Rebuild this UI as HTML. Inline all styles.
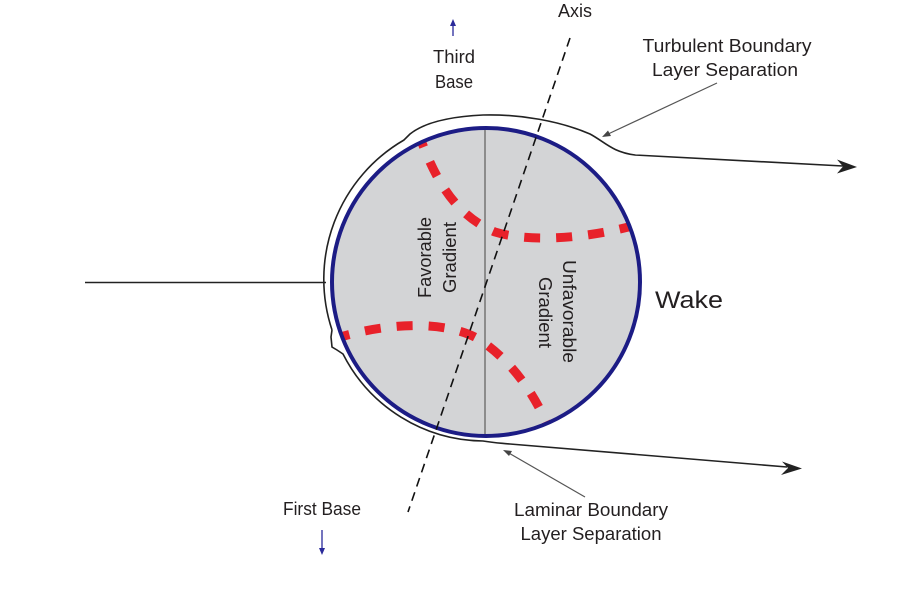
<!DOCTYPE html>
<html>
<head>
<meta charset="utf-8">
<style>
  html,body{margin:0;padding:0;background:#fff;}
  body{width:900px;height:596px;overflow:hidden;}
  svg{display:block;}
  text{font-family:"Liberation Sans",Arial,sans-serif;fill:#231f20;}
</style>
</head>
<body>
<svg width="900" height="596" viewBox="0 0 900 596" xmlns="http://www.w3.org/2000/svg">
  <defs>
    <clipPath id="ball"><circle cx="486" cy="282" r="154"/></clipPath>
  </defs>
  <rect width="900" height="596" fill="#fff"/>

  <!-- incoming flow line -->
  <line x1="85" y1="282.5" x2="326" y2="282.5" stroke="#222" stroke-width="1.6"/>

  <!-- ball -->
  <circle cx="486" cy="282" r="154" fill="#d3d4d6"/>
  <line x1="485" y1="128" x2="485" y2="436" stroke="#7a7a7a" stroke-width="1.6"/>

  <!-- seams -->
  <g clip-path="url(#ball)" fill="none" stroke="#e8212a" stroke-width="9" stroke-dasharray="16 16">
    <path d="M 418 132 C 435 180, 455 215, 495 232 C 530 243, 590 238, 636 225"/>
    <path d="M 334 339 C 390 321, 450 321, 480 340 C 510 360, 535 392, 552 436"/>
  </g>

  <!-- ball outline -->
  <circle cx="486" cy="282" r="154" fill="none" stroke="#1c1c85" stroke-width="4"/>

  <!-- axis -->
  <line x1="570" y1="38" x2="408" y2="512" stroke="#111" stroke-width="1.6" stroke-dasharray="9 6"/>

  <!-- boundary layer contour -->
  <path d="M 332 330 A 161 161 0 0 1 404 140 L 410 134 C 420 126, 440 117, 483 115 C 520 114, 560 121, 590 134 C 605 142, 612 152, 635 155 L 843 166"
        fill="none" stroke="#222" stroke-width="1.6"/>
  <path d="M 332 330 L 331 337 L 332 347 L 337 350 L 343 354 A 159 159 0 0 0 483 441 C 495 443, 500 443, 510 444 L 787 467"
        fill="none" stroke="#222" stroke-width="1.6"/>

  <!-- arrowheads for flow lines -->
  <polygon points="857,167 837,159.5 843,166.5 837,173.5" fill="#222"/>
  <polygon points="802,468.5 782,461.5 788,468 781,475" fill="#222"/>

  <!-- pointer lines -->
  <line x1="717" y1="83" x2="606" y2="135" stroke="#555" stroke-width="1.2"/>
  <polygon points="602,137 608,130.5 611,136" fill="#444"/>
  <line x1="585" y1="497" x2="507" y2="452" stroke="#555" stroke-width="1.2"/>
  <polygon points="503,450 512,451 509,456" fill="#444"/>

  <!-- base direction arrows -->
  <line x1="453" y1="36" x2="453" y2="24" stroke="#2a2a9a" stroke-width="1.3"/>
  <polygon points="453,19 450,26 456,26" fill="#2a2a9a"/>
  <line x1="322" y1="530" x2="322" y2="549" stroke="#2a2a9a" stroke-width="1.3"/>
  <polygon points="322,555 319,548 325,548" fill="#2a2a9a"/>

  <!-- labels -->
  <text x="575" y="17" font-size="18" text-anchor="middle" textLength="34" lengthAdjust="spacingAndGlyphs">Axis</text>
  <text x="454" y="63" font-size="18" text-anchor="middle" textLength="42" lengthAdjust="spacingAndGlyphs">Third</text>
  <text x="454" y="88" font-size="18" text-anchor="middle" textLength="38" lengthAdjust="spacingAndGlyphs">Base</text>
  <text x="727" y="52" font-size="18" text-anchor="middle" textLength="169" lengthAdjust="spacingAndGlyphs">Turbulent Boundary</text>
  <text x="725" y="76" font-size="18" text-anchor="middle" textLength="146" lengthAdjust="spacingAndGlyphs">Layer Separation</text>
  <text x="322" y="515" font-size="18" text-anchor="middle" textLength="78" lengthAdjust="spacingAndGlyphs">First Base</text>
  <text x="591" y="516" font-size="18" text-anchor="middle" textLength="154" lengthAdjust="spacingAndGlyphs">Laminar Boundary</text>
  <text x="591" y="540" font-size="18" text-anchor="middle" textLength="141" lengthAdjust="spacingAndGlyphs">Layer Separation</text>
  <text x="655" y="308" font-size="24" textLength="68" lengthAdjust="spacingAndGlyphs">Wake</text>

  <text transform="translate(431,257.5) rotate(-90)" font-size="18" text-anchor="middle" textLength="81" lengthAdjust="spacingAndGlyphs">Favorable</text>
  <text transform="translate(456,257.5) rotate(-90)" font-size="18" text-anchor="middle" textLength="71" lengthAdjust="spacingAndGlyphs">Gradient</text>
  <text transform="translate(563,311.5) rotate(90)" font-size="18" text-anchor="middle" textLength="103" lengthAdjust="spacingAndGlyphs">Unfavorable</text>
  <text transform="translate(539,312.5) rotate(90)" font-size="18" text-anchor="middle" textLength="71" lengthAdjust="spacingAndGlyphs">Gradient</text>
</svg>
</body>
</html>
